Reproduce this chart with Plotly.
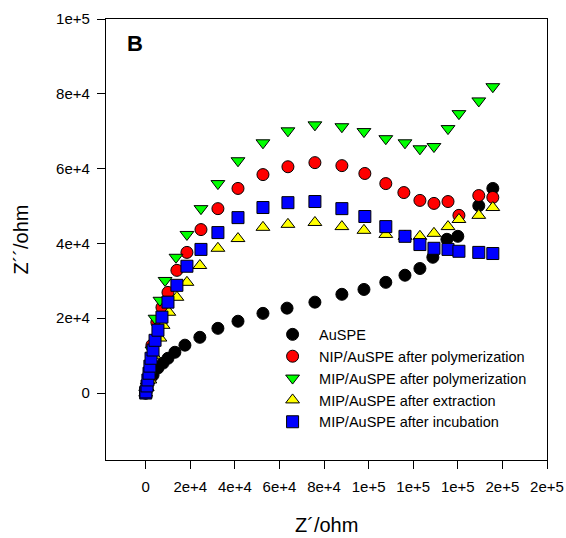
import plotly.graph_objects as go

# Nyquist data (Z' real, Z'' imaginary), ohm
auspe_zre = [0, 300, 1000, 1800, 3300, 5500, 7800, 10000, 13100, 17600, 24300, 32400, 41400,
             52600, 63400, 75900, 88000, 97900, 107700, 116300, 123000, 128800, 135100,
             140000, 149400, 155700]
auspe_zim = [0, 1200, 2700, 3800, 4800, 6700, 8000, 9300, 10900, 12800, 14900, 17300, 19200,
             21300, 22700, 24300, 26400, 27700, 29600, 31500, 33300, 36300, 41100,
             41900, 50100, 54700]

nip_zre = [0, 600, 1900, 2800, 5000, 7300, 10000, 14000, 18500, 24800, 32400, 41400, 52600,
           63800, 75900, 88000, 98300, 107700, 115800, 123000, 129300, 135600, 140500,
           149400, 155700]
nip_zim = [0, 1500, 3500, 12800, 18900, 22900, 26900, 32800, 37600, 43700, 49300, 54700, 58400,
           60500, 61600, 60800, 58700, 56000, 53600, 51500, 50700, 51200, 47500,
           52800, 52300]

mip_poly_zre = [0, 700, 1900, 2800, 4200, 6400, 8700, 13600, 18500, 24800, 32400, 41400, 52600,
                63800, 75900, 88000, 97900, 107700, 116300, 123000, 129300, 135600, 140500,
                149400, 155700]
mip_poly_zim = [0, 1800, 4800, 11500, 20000, 24800, 30100, 36300, 42400, 49300, 56000, 62100,
                66900, 70100, 71700, 71200, 69900, 68000, 66900, 65300, 65900, 70700, 74700,
                78100, 81900]

mip_extr_zre = [0, 700, 1900, 3700, 6400, 7800, 10400, 14000, 18500, 24300, 32400, 41400, 52600,
                63800, 75900, 88000, 97900, 107700, 116300, 123000, 129300, 135600, 140500,
                149400, 155700]
mip_extr_zim = [0, 1500, 3500, 10100, 14700, 18100, 21600, 25600, 29600, 34100, 38700, 41300,
                44300, 45100, 45600, 44500, 43500, 42400, 41900, 41900, 42700, 44500, 46400,
                47500, 49600]

mip_incu_zre = [0, 100, 600, 1000, 1500, 1900, 2400, 3300, 4200, 5500, 7300, 10000, 14000,
                18500, 24800, 32400, 41400, 52600, 63800, 75900, 88000, 98300, 107700,
                116300, 123000, 129300, 135600, 140500, 149400, 155700]
mip_incu_zim = [0, 300, 1900, 3500, 5300, 7200, 9300, 11500, 14100, 16800, 20300, 24300, 28800,
                33900, 38400, 42900, 46900, 49600, 50900, 51200, 49300, 47200, 44500,
                41900, 39700, 38700, 38400, 37900, 37600, 37300]

series_names = ["AuSPE", "NIP/AuSPE after polymerization", "MIP/AuSPE after polymerization",
                "MIP/AuSPE after extraction", "MIP/AuSPE after incubation"]

x_tickvals = [0, 20000, 40000, 60000, 80000, 100000, 120000, 140000, 160000, 180000]
x_ticktext = ["0", "2e+4", "4e+4", "6e+4", "8e+4", "1e+5", "1e+5", "1e+5", "2e+5", "2e+5"]
y_tickvals = [0, 20000, 40000, 60000, 80000, 100000]
y_ticktext = ["0", "2e+4", "4e+4", "6e+4", "8e+4", "1e+5"]

FONT = "Liberation Sans, Arial, sans-serif"

styles = [
    ("circle", "#000000"),
    ("circle", "#ff0000"),
    ("triangle-down", "#00ff00"),
    ("triangle-up", "#ffff00"),
    ("square", "#0000ff"),
]
data = [
    (auspe_zre, auspe_zim),
    (nip_zre, nip_zim),
    (mip_poly_zre, mip_poly_zim),
    (mip_extr_zre, mip_extr_zim),
    (mip_incu_zre, mip_incu_zim),
]

fig = go.Figure()
for name, (zre, zim), (sym, col) in zip(series_names, data, styles):
    fig.add_trace(go.Scatter(
        x=zre, y=zim, mode="markers", name=name,
        marker=dict(symbol=sym, color=col, size=12,
                    line=dict(color="#000000", width=1)),
    ))

axis_common = dict(
    showline=True, linecolor="#000000", linewidth=1.3, mirror=True,
    ticks="outside", ticklen=8, tickwidth=1.3, tickcolor="#000000",
    showgrid=False, zeroline=False, automargin=False,
    tickfont=dict(family=FONT, size=15, color="#000000"),
)

fig.update_xaxes(
    range=[-17800, 180000], tickmode="array", tickvals=x_tickvals, ticktext=x_ticktext,
    ticklabelstandoff=5, **axis_common,
)
fig.update_yaxes(
    range=[-17900, 100000], tickmode="array", tickvals=y_tickvals, ticktext=y_ticktext,
    ticklabelstandoff=4, **axis_common,
)

title_font = dict(family=FONT, size=20, color="#000000")
# axis titles placed relative to the plotting area
fig.add_annotation(
    text="Z´/ohm", xref="paper", yref="paper", x=0.5, y=0,
    xanchor="center", yanchor="middle", yshift=-65, showarrow=False, font=title_font,
)
fig.add_annotation(
    text="Z´´/ohm", xref="paper", yref="paper", x=0, y=0.5, textangle=-90,
    xanchor="center", yanchor="middle", xshift=-86, showarrow=False, font=title_font,
)

fig.add_annotation(
    text="<b>B</b>", xref="paper", yref="paper", x=0.043, y=0.978,
    xanchor="left", yanchor="top", showarrow=False,
    font=dict(family=FONT, size=22, color="#000000"),
)

fig.update_layout(
    width=566, height=538,
    margin=dict(l=106, r=19, t=19, b=78),
    paper_bgcolor="#ffffff", plot_bgcolor="#ffffff",
    font=dict(family=FONT, color="#000000"),
    legend=dict(
        x=0.363, y=0.321, xanchor="left", yanchor="top",
        bgcolor="rgba(0,0,0,0)", borderwidth=0, itemwidth=43,
        font=dict(family=FONT, size=14.5, color="#000000"),
    ),
    showlegend=True,
)

fig.write_html("out.html")
